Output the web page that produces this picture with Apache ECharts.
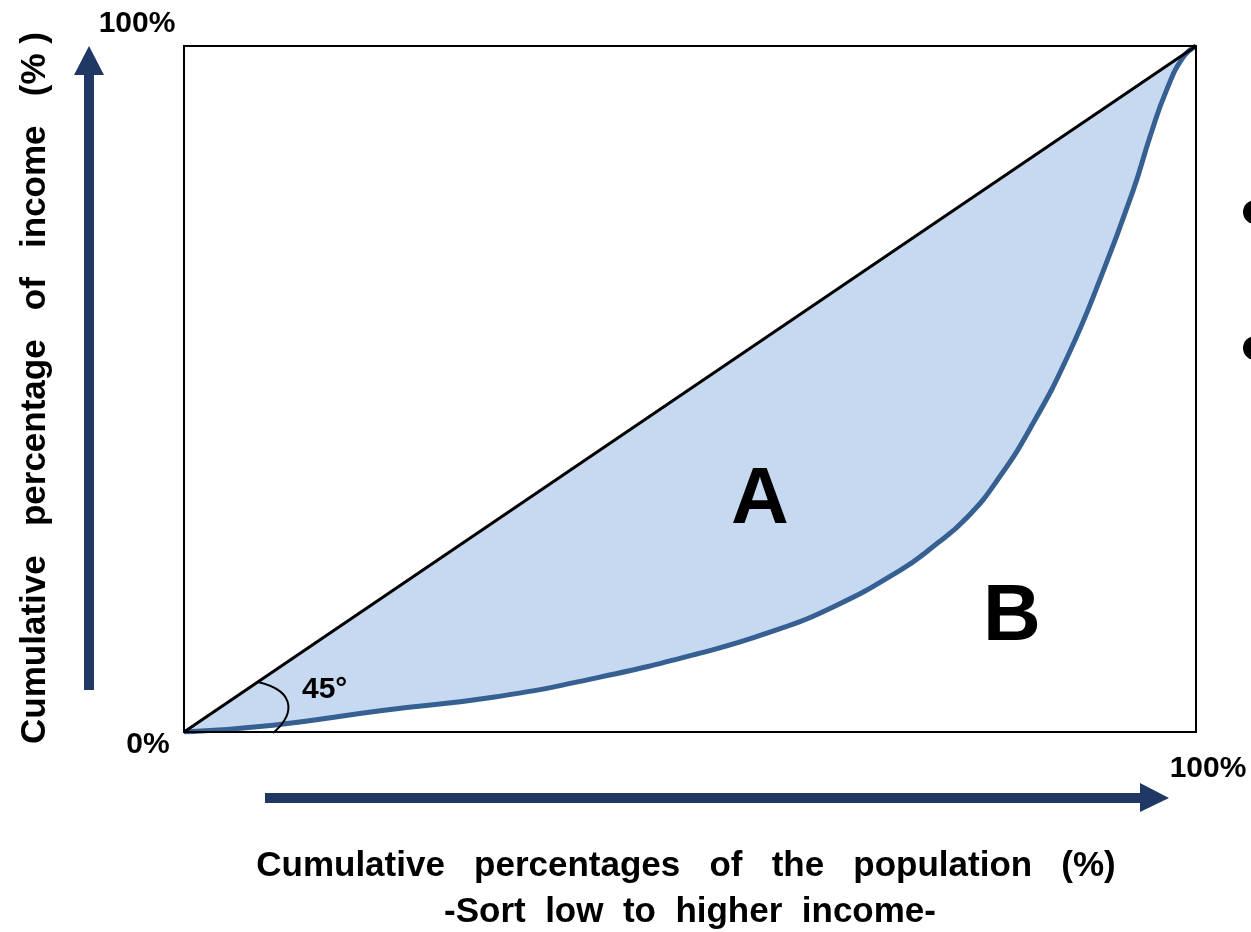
<!DOCTYPE html>
<html><head><meta charset="utf-8">
<script src="https://cdn.jsdelivr.net/npm/echarts@6/dist/echarts.min.js"></script>
<style>html,body{margin:0;padding:0;background:#fff}#c{width:1251px;height:932px}</style>
</head><body><div id="c"></div>
<script>
// Lorenz curve: cumulative % of population (x) vs cumulative % of income (y)
const populationPct = [0, 8.8, 19.4, 30.7, 41.1, 51.0, 57.6, 64.1, 70.8, 74.0, 77.4, 80.6, 83.9, 87.3, 90.5, 93.8, 95.5, 97.1, 98.7, 100];
const incomePct     = [0, 1.0, 3.1, 5.1, 8.0, 11.5, 14.4, 18.2, 23.6, 27.0, 31.3, 37.2, 45.0, 54.7, 65.9, 79.0, 87.0, 93.6, 98.3, 100];
const equalityLine  = [[0, 0], [100, 100]];
const tickLabels = ['0%', '100%'];
const xTitle = ['Cumulative   percentages   of   the   population   (%)', '-Sort  low  to  higher  income-'];
const yTitle = 'Cumulative   percentage   of   income   (% )';
const regionLabels = ['A', 'B'];
const angleLabel = '45°';

const FONT = '"Liberation Sans", Arial, sans-serif';
const curveData = populationPct.map((x, i) => [x, incomePct[i]]);

const G = {left: 184, top: 46, width: 1012, height: 686};
const chart = echarts.init(document.getElementById('c'), null, {renderer: 'canvas'});
chart.setOption({
  animation: false,
  backgroundColor: '#fff',
  grid: {left: G.left, top: G.top, width: G.width, height: G.height, show: false},
  xAxis: {type: 'value', min: 0, max: 100, axisLine: {show: false}, axisTick: {show: false}, axisLabel: {show: false}, splitLine: {show: false}},
  yAxis: {type: 'value', min: 0, max: 100, axisLine: {show: false}, axisTick: {show: false}, axisLabel: {show: false}, splitLine: {show: false}},
  series: [
    {type: 'line', name: 'fillTop', data: equalityLine, symbol: 'none', z: 1,
     lineStyle: {width: 0, opacity: 0}, areaStyle: {color: '#c6d9f0', opacity: 1}},
    {type: 'line', name: 'Lorenz', data: curveData, smooth: 0.5, symbol: 'none', z: 3,
     lineStyle: {color: '#366092', width: 5}, areaStyle: {color: '#ffffff', opacity: 1}},
    {type: 'line', name: 'Equality', data: equalityLine, symbol: 'none', z: 5,
     lineStyle: {color: '#000', width: 3}}
  ],
  graphic: [
    {type: 'rect', shape: {x: G.left, y: G.top, width: G.width, height: G.height}, style: {fill: null, stroke: '#000', lineWidth: 2}, z: 100},
    // vertical arrow
    {type: 'polygon', shape: {points: [[84,690],[94,690],[94,75],[104,75],[89,46],[74,75],[84,75]]}, style: {fill: '#1f3864'}},
    // horizontal arrow
    {type: 'polygon', shape: {points: [[265,793],[1140,793],[1140,783],[1169,798],[1140,812],[1140,803],[265,803]]}, style: {fill: '#1f3864'}},
    // angle arc
    {type: 'bezierCurve', shape: {x1: 258, y1: 682, cpx1: 300, cpy1: 692, cpx2: 292, cpy2: 718, x2: 273, y2: 733}, style: {stroke: '#000', lineWidth: 2, fill: null}, z: 100},
    {type: 'text', x: 302, y: 690, style: {text: angleLabel, font: 'bold 30px ' + FONT, fill: '#000', textAlign: 'left', textVerticalAlign: 'middle'}, z: 100},
    {type: 'text', x: 137, y: 24, style: {text: tickLabels[1], font: 'bold 30px ' + FONT, fill: '#000', textAlign: 'center', textVerticalAlign: 'middle'}},
    {type: 'text', x: 148, y: 745, style: {text: tickLabels[0], font: 'bold 30px ' + FONT, fill: '#000', textAlign: 'center', textVerticalAlign: 'middle'}},
    {type: 'text', x: 1208, y: 769, style: {text: tickLabels[1], font: 'bold 30px ' + FONT, fill: '#000', textAlign: 'center', textVerticalAlign: 'middle'}},
    {type: 'text', x: 760, y: 501, style: {text: regionLabels[0], font: 'bold 80px ' + FONT, fill: '#000', textAlign: 'center', textVerticalAlign: 'middle'}, z: 100},
    {type: 'text', x: 1012, y: 618, style: {text: regionLabels[1], font: 'bold 80px ' + FONT, fill: '#000', textAlign: 'center', textVerticalAlign: 'middle'}, z: 100},
    {type: 'text', x: 686, y: 866, style: {text: xTitle[0], font: 'bold 35px ' + FONT, fill: '#000', textAlign: 'center', textVerticalAlign: 'middle'}},
    {type: 'text', x: 690, y: 912, style: {text: xTitle[1], font: 'bold 35px ' + FONT, fill: '#000', textAlign: 'center', textVerticalAlign: 'middle'}},
    {type: 'text', x: 35, y: 388, rotation: Math.PI / 2, style: {text: yTitle, font: 'bold 35px ' + FONT, fill: '#000', textAlign: 'center', textVerticalAlign: 'middle'}},
    // cut-off bullets at right edge
    {type: 'circle', shape: {cx: 1255, cy: 212, r: 12}, style: {fill: '#000'}},
    {type: 'circle', shape: {cx: 1255, cy: 348, r: 12}, style: {fill: '#000'}}
  ]
});
</script></body></html>
